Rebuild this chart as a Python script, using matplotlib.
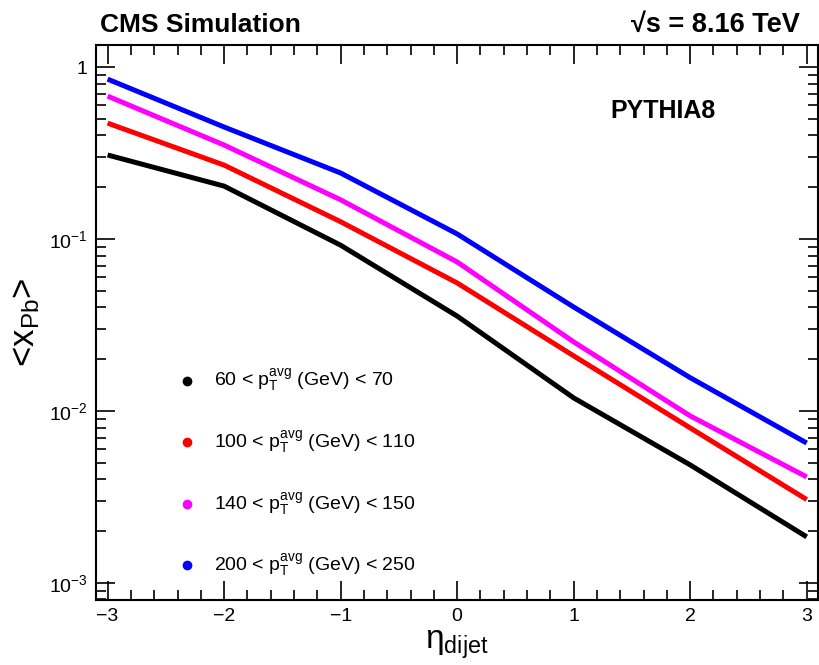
#Mean x_Pb vs eta_dijet for four pT avg bins, PYTHIA8 simulation.

import numpy as np
import matplotlib
matplotlib.use("Agg")
import matplotlib.pyplot as plt
from matplotlib.ticker import MultipleLocator, LogLocator, NullFormatter

plt.rcParams['font.family'] = ['Liberation Sans', 'DejaVu Sans']
plt.rcParams['mathtext.fontset'] = 'custom'
plt.rcParams['mathtext.rm'] = 'Liberation Sans'
plt.rcParams['mathtext.it'] = 'Liberation Sans'
plt.rcParams['mathtext.bf'] = 'Liberation Sans:bold'

eta = [-3, -2, -1, 0, 1, 2, 3]
x_60_70 = [0.308, 0.203, 0.092, 0.0356, 0.0119, 0.00485, 0.00185]
x_100_110 = [0.472, 0.269, 0.126, 0.0555, 0.0209, 0.00796, 0.00305]
x_140_150 = [0.678, 0.352, 0.169, 0.0735, 0.0252, 0.00935, 0.00413]
x_200_250 = [0.851, 0.448, 0.242, 0.107, 0.0402, 0.0156, 0.00650]

series = [x_60_70, x_100_110, x_140_150, x_200_250]
colors = ['black', '#ff0000', '#ff00ff', '#0000ff']
labels = [r"60 < $\mathrm{p_{T}^{avg}}$ (GeV) < 70",
          r"100 < $\mathrm{p_{T}^{avg}}$ (GeV) < 110",
          r"140 < $\mathrm{p_{T}^{avg}}$ (GeV) < 150",
          r"200 < $\mathrm{p_{T}^{avg}}$ (GeV) < 250"]

fig = plt.figure(figsize=(8.2, 6.65), dpi=100)
ax = fig.add_axes([0.117, 0.098, 0.881, 0.834])

for y, c in zip(series, colors):
    ax.plot(eta, y, color=c, lw=3.6, solid_capstyle='butt')

ax.set_yscale('log')
ax.set_xlim(-3.1, 3.1)
ax.set_ylim(7.96e-4, 1.34)

ax.xaxis.set_major_locator(MultipleLocator(1))
ax.xaxis.set_minor_locator(MultipleLocator(0.2))
ax.yaxis.set_minor_locator(LogLocator(base=10, subs=np.arange(2, 10), numticks=20))
ax.yaxis.set_minor_formatter(NullFormatter())
ax.set_yticks([1e-3, 1e-2, 1e-1, 1])
ax.set_yticklabels([r"$10^{-3}$", r"$10^{-2}$", r"$10^{-1}$", "1"])
ax.set_xticks(eta)
ax.set_xticklabels(["\u22123", "\u22122", "\u22121", "0", "1", "2", "3"])

ax.tick_params(which='both', direction='in', top=True, right=True, labelsize=14, width=1.2)
ax.tick_params(which='major', length=14, pad=6)
ax.tick_params(which='minor', length=7)
for s in ax.spines.values():
    s.set_linewidth(1.5)

ax.set_xlabel(r"$\mathrm{\eta_{dijet}}$", fontsize=24, labelpad=0)
ax.xaxis.set_label_coords(0.5, -0.052)
ax.set_ylabel(r"<$\mathrm{x_{Pb}}$>", fontsize=25)
ax.yaxis.set_label_coords(-0.075, 0.5)

# legend drawn by hand like ROOT TLegend
for i, (c, lab) in enumerate(zip(colors, labels)):
    yy = 0.395 - i * 0.111
    ax.plot([0.126], [yy], 'o', color=c, ms=6, transform=ax.transAxes)
    ax.text(0.163, yy, lab, transform=ax.transAxes, fontsize=14, va='center')

fig.text(0.122, 0.963, "CMS Simulation", fontsize=19, fontweight='bold', va='center')
fig.text(0.975, 0.963, "\u221as = 8.16 TeV", fontsize=19.5, fontweight='bold', va='center', ha='right')
ax.text(0.712, 0.881, "PYTHIA8", transform=ax.transAxes, fontsize=18, fontweight='bold', va='center')

plt.savefig("out.png", dpi=100)
